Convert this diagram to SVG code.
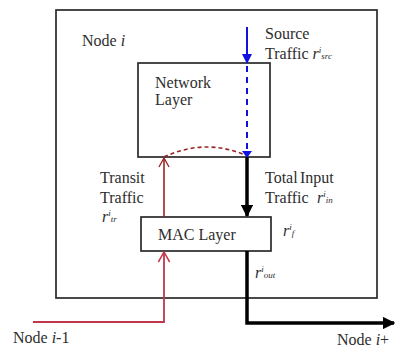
<svg xmlns="http://www.w3.org/2000/svg" width="395" height="349" viewBox="0 0 395 349">
<style>
text{font-family:"Liberation Serif","Times New Roman",serif;font-size:16px;fill:#2e2e2e}
.box{fill:#fff;stroke:#2a2a2a;stroke-width:1.7}
.it{font-style:italic}
.sm{font-size:9px;font-style:italic}
.blue{stroke:#1010e0;stroke-width:2;fill:none}
.red{stroke:#9a2525;stroke-width:1.6;fill:none}
.red2{stroke:#c2364a;stroke-width:1.8;fill:none}
.blk{stroke:#000;stroke-width:3.5;fill:none}
</style>
<defs>
<marker id="bh" viewBox="0 0 10 10" refX="9" refY="5" markerWidth="5" markerHeight="5" orient="auto" markerUnits="strokeWidth"><path d="M0,0 L10,5 L0,10 z" fill="#1010e0"/></marker>
<marker id="kh" viewBox="0 0 10 10" refX="9" refY="5" markerWidth="3.6" markerHeight="3.6" orient="auto" markerUnits="strokeWidth"><path d="M0,0 L10,5 L0,10 z" fill="#000"/></marker>
<marker id="rh" viewBox="0 0 10 10" refX="9" refY="5" markerWidth="7" markerHeight="7" orient="auto" markerUnits="strokeWidth"><path d="M1,0.5 L9,5 L1,9.5" fill="none" stroke="#9a2525" stroke-width="1.2"/></marker>
<marker id="rh2" viewBox="0 0 10 10" refX="9" refY="5" markerWidth="7" markerHeight="7" orient="auto" markerUnits="strokeWidth"><path d="M1,0.5 L9,5 L1,9.5" fill="none" stroke="#c2364a" stroke-width="1.2"/></marker>
</defs>
<g id="node-i">
<rect class="box" x="56" y="10" width="321" height="288"/>
<text x="82" y="46">Node <tspan class="it">i</tspan></text>
</g>
<g id="network-layer">
<rect class="box" x="138" y="63" width="132" height="94"/>
<text x="155" y="88">Network</text>
<text x="155" y="105">Layer</text>
</g>
<g id="mac-layer">
<rect class="box" x="141" y="217" width="130" height="34"/>
<text x="158" y="240">MAC Layer</text>
</g>
<g id="labels">
<text x="265" y="39">Source</text>
<text x="265" y="59">Traffic <tspan class="it">r</tspan><tspan class="sm" dy="-6">i</tspan><tspan class="sm" dy="6">src</tspan></text>
<text x="100" y="183">Transit</text>
<text x="100" y="203">Traffic</text>
<text x="102" y="222"><tspan class="it">r</tspan><tspan class="sm" dy="-6">i</tspan><tspan class="sm" dy="6">tr</tspan></text>
<text x="265" y="183">Total <tspan x="300">Input</tspan></text>
<text x="265" y="203">Traffic <tspan x="317" class="it">r</tspan><tspan class="sm" dy="-6">i</tspan><tspan class="sm" dy="6">in</tspan></text>
<text x="283" y="236"><tspan class="it">r</tspan><tspan class="sm" dy="-6">i</tspan><tspan class="sm" dy="6">f</tspan></text>
<text x="255" y="278"><tspan class="it">r</tspan><tspan class="sm" dy="-6">i</tspan><tspan class="sm" dy="6">out</tspan></text>
<text x="13" y="343">Node <tspan class="it">i</tspan>-1</text>
<text x="337" y="345">Node <tspan class="it">i</tspan>+</text>
</g>
<g id="connectors">
<line class="blue" x1="247" y1="27" x2="247" y2="63" marker-end="url(#bh)"/>
<line class="blue" x1="247" y1="66" x2="247" y2="150" stroke-dasharray="6,5"/>
<path d="M242,151 L252,151 L247,158 z" fill="#1010e0"/>
<line class="blk" x1="247" y1="157" x2="247" y2="216" marker-end="url(#kh)"/>
<polyline class="blk" points="247,251 247,323 394,323" marker-end="url(#kh)"/>
<line class="red" x1="164" y1="217" x2="164" y2="158" marker-end="url(#rh)"/>
<path class="red" d="M164,157 Q205,138 245,155" stroke-dasharray="4,3"/>
<polyline class="red2" points="33,322 164,322 164,252" marker-end="url(#rh2)"/>
</g>
</svg>
